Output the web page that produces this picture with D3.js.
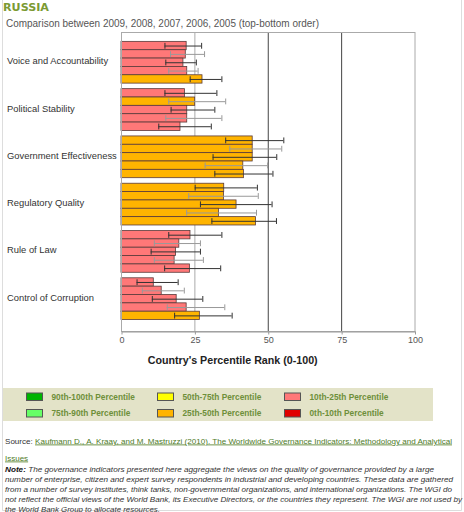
<!DOCTYPE html>
<html>
<head>
<meta charset="utf-8">
<script src="https://cdn.jsdelivr.net/npm/d3@7"></script>
<style>
  body { margin: 0; background: #fff; }
  svg { display: block; font-family: "Liberation Sans", Arial, sans-serif; }
</style>
</head>
<body>
<div id="chart"></div>
<script>
const years = ['2009', '2008', '2007', '2006', '2005'];
const indicators = ['Voice and Accountability', 'Political Stability', 'Government Effectiveness',
    'Regulatory Quality', 'Rule of Law', 'Control of Corruption'];

// percentile rank per indicator, 2009 -> 2005
const rank = [
    [22.2, 21.9, 21.1, 22.4, 27.6],
    [21.6, 25.1, 22.4, 22.4, 20.1],
    [44.7, 44.7, 44.7, 41.5, 41.7],
    [35.0, 34.9, 39.2, 33.2, 45.8],
    [23.5, 19.7, 18.6, 18.1, 23.3],
    [11.0, 13.7, 18.8, 22.2, 26.7]
];
const lower = [
    [14.8, 16.7, 15.1, 16.1, 23.4],
    [14.8, 16.1, 16.9, 15.1, 12.7],
    [35.5, 36.9, 31.2, 28.5, 31.8],
    [25.1, 22.9, 26.9, 22.2, 30.8],
    [16.1, 11.2, 10.1, 11.2, 14.7],
    [5.3, 7.1, 10.5, 15.6, 18.1]
];
const upper = [
    [27.3, 28.3, 25.5, 26.1, 34.2],
    [32.5, 35.5, 31.8, 34.2, 30.6],
    [55.3, 54.6, 52.9, 49.8, 51.6],
    [46.3, 46.6, 51.3, 46.0, 52.8],
    [34.2, 26.9, 26.9, 27.9, 33.8],
    [19.3, 21.4, 27.7, 35.2, 37.7]
];
const ticks = [0, 25, 50, 75, 100];
const legendLabels = ['90th-100th Percentile', '50th-75th Percentile', '10th-25th Percentile',
    '75th-90th Percentile', '25th-50th Percentile', '0th-10th Percentile'];
const noteLines = [
    'The governance indicators presented here aggregate the views on the quality of governance provided by a large',
    'number of enterprise, citizen and expert survey respondents in industrial and developing countries. These data are gathered',
    'from a number of survey institutes, think tanks, non-governmental organizations, and international organizations. The WGI do',
    'not reflect the official views of the World Bank, its Executive Directors, or the countries they represent. The WGI are not used by',
    'the World Bank Group to allocate resources.'
];

const width = 464, height = 512;
const plot = {left: 121, right: 414.5, top: 32, bottom: 331};

let svg = d3.select('#chart').append('svg')
    .attr('width', width)
    .attr('height', height);

// percentile bands -> colours
let colour = d3.scaleThreshold()
    .domain([10, 25, 50, 75, 90])
    .range(['#e00000', '#ff7878', '#ffb400', '#ffff00', '#66ff66', '#00b400']);
const legendColours = ['#00b400', '#ffff00', '#ff7878', '#66ff66', '#ffb400', '#e00000'];

let x = d3.scaleLinear()
    .domain([0, 100])
    .range([plot.left, plot.right]);

let y0 = d3.scaleBand()
    .domain(indicators)
    .range([plot.top, plot.bottom])
    .paddingInner(0.117)
    .paddingOuter(0.22)
    .align(0.45);

let y1 = d3.scaleBand()
    .domain(years)
    .range([0, y0.bandwidth()]);

// page frame
svg.append('path')
    .attr('d', 'M2.5,0V510.5H461.5V0')
    .attr('fill', 'none')
    .attr('stroke', '#ddd');

// headings
svg.append('text')
    .attr('x', 3).attr('y', 11)
    .attr('font-family', 'DejaVu Sans')
    .attr('font-size', 10.5)
    .attr('font-weight', 'bold')
    .attr('fill', '#7c9a32')
    .attr('textLength', 46)
    .attr('lengthAdjust', 'spacingAndGlyphs')
    .text('RUSSIA');

svg.append('text')
    .attr('x', 6).attr('y', 26.5)
    .attr('font-size', 10)
    .attr('fill', '#555')
    .attr('textLength', 313)
    .attr('lengthAdjust', 'spacingAndGlyphs')
    .text('Comparison between 2009, 2008, 2007, 2006, 2005 (top-bottom order)');

// plot box + grid
svg.append('rect')
    .attr('x', plot.left).attr('y', plot.top)
    .attr('width', plot.right - plot.left).attr('height', plot.bottom - plot.top)
    .attr('fill', '#fff');

svg.append('g').selectAll('line')
    .data([25, 50, 75])
    .join('line')
    .attr('x1', d => x(d) + 0.5).attr('x2', d => x(d) + 0.5)
    .attr('y1', plot.top).attr('y2', plot.bottom)
    .attr('stroke', d => d == 25 ? '#aaa' : '#444');

// bars
let groups = svg.append('g').selectAll('g')
    .data(indicators)
    .join('g')
    .attr('transform', d => `translate(0,${y0(d)})`);

groups.selectAll('rect')
    .data((d, i) => years.map((yr, j) => ({yr, j, v: rank[i][j], lo: lower[i][j], hi: upper[i][j]})))
    .join('rect')
    .attr('x', x(0))
    .attr('y', d => y1(d.yr))
    .attr('width', d => x(d.v) - x(0))
    .attr('height', y1.bandwidth())
    .attr('fill', d => colour(d.v))
    .attr('stroke', '#5a3a3a')
    .attr('stroke-width', 0.8);

// error bars (alternate shades, like the original)
let err = groups.selectAll('g.err')
    .data((d, i) => years.map((yr, j) => ({yr, j, lo: lower[i][j], hi: upper[i][j]})))
    .join('g')
    .attr('class', 'err')
    .attr('stroke', d => d.j % 2 == 0 ? '#333' : '#999')
    .attr('stroke-width', 1);

err.append('line')
    .attr('x1', d => x(d.lo)).attr('x2', d => x(d.hi))
    .attr('y1', d => y1(d.yr) + y1.bandwidth() / 2 + 0.5)
    .attr('y2', d => y1(d.yr) + y1.bandwidth() / 2 + 0.5);

['lo', 'hi'].forEach(k => {
    err.append('line')
        .attr('x1', d => x(d[k]) + 0.5).attr('x2', d => x(d[k]) + 0.5)
        .attr('y1', d => y1(d.yr) + 1.5)
        .attr('y2', d => y1(d.yr) + y1.bandwidth() - 1);
});

// box outline on top
svg.append('rect')
    .attr('x', plot.left + 0.5).attr('y', plot.top + 0.5)
    .attr('width', plot.right - plot.left).attr('height', plot.bottom - plot.top)
    .attr('fill', 'none')
    .attr('stroke', '#aaa');

// category labels
svg.append('g').selectAll('text')
    .data(indicators)
    .join('text')
    .attr('x', 7)
    .attr('y', d => y0(d) + y0.bandwidth() / 2 + 2)
    .attr('font-size', 9.4)
    .attr('fill', '#333')
    .text(d => d);

// x axis
let axis = svg.append('g')
    .attr('transform', `translate(0.5,${plot.bottom + 0.5})`)
    .call(d3.axisBottom(x).tickValues(ticks).tickSize(3).tickSizeOuter(0).tickPadding(2));
axis.select('.domain').attr('stroke', '#999');
axis.selectAll('.tick line').attr('stroke', '#999');
axis.selectAll('.tick text')
    .attr('font-family', '"Liberation Sans", Arial, sans-serif')
    .attr('font-size', 9)
    .attr('fill', '#555');

svg.append('text')
    .attr('x', 232.7).attr('y', 363.5)
    .attr('text-anchor', 'middle')
    .attr('font-size', 10)
    .attr('font-weight', 'bold')
    .attr('fill', '#222')
    .attr('textLength', 170)
    .attr('lengthAdjust', 'spacingAndGlyphs')
    .text("Country's Percentile Rank (0-100)");

// legend
svg.append('rect')
    .attr('x', 3).attr('y', 388)
    .attr('width', 430).attr('height', 33)
    .attr('fill', '#e3e3c8');

const colX = [26, 157, 284];
const rowY = [392.5, 409];
let items = svg.append('g').selectAll('g')
    .data(legendLabels)
    .join('g')
    .attr('transform', (d, i) => `translate(${colX[i % 3]},${rowY[Math.floor(i / 3)]})`);

items.append('rect')
    .attr('x', 0.5).attr('y', 0.5)
    .attr('width', 16).attr('height', 7.5)
    .attr('fill', (d, i) => legendColours[i])
    .attr('stroke', '#555');

items.append('text')
    .attr('x', 25.5).attr('y', 7)
    .attr('font-size', 8.3)
    .attr('font-weight', 'bold')
    .attr('fill', '#6e8f3a')
    .text(d => d);

// source + note
let src = svg.append('text')
    .attr('x', 5).attr('y', 443.5)
    .attr('font-size', 8)
    .attr('textLength', 447)
    .attr('lengthAdjust', 'spacingAndGlyphs');
src.append('tspan').attr('fill', '#333').text('Source: ');
src.append('tspan')
    .attr('fill', '#4d7a1f')
    .attr('text-decoration', 'underline')
    .text('Kaufmann D., A. Kraay, and M. Mastruzzi (2010). The Worldwide Governance Indicators: Methodology and Analytical');

svg.append('text')
    .attr('x', 5).attr('y', 460.5)
    .attr('font-size', 8)
    .attr('fill', '#4d7a1f')
    .attr('text-decoration', 'underline')
    .text('Issues');

const noteWidths = [429, 448, 447, 457, 155];
let notes = svg.append('g').selectAll('text')
    .data(noteLines)
    .join('text')
    .attr('x', 5)
    .attr('y', (d, i) => 471.5 + i * 10)
    .attr('font-size', 8)
    .attr('font-style', 'italic')
    .attr('fill', '#333')
    .attr('textLength', (d, i) => noteWidths[i])
    .attr('lengthAdjust', 'spacingAndGlyphs');

notes.filter((d, i) => i == 0)
    .append('tspan')
    .attr('font-weight', 'bold')
    .attr('fill', '#111')
    .text('Note: ');
notes.append('tspan').text(d => d);
</script>
</body>
</html>
